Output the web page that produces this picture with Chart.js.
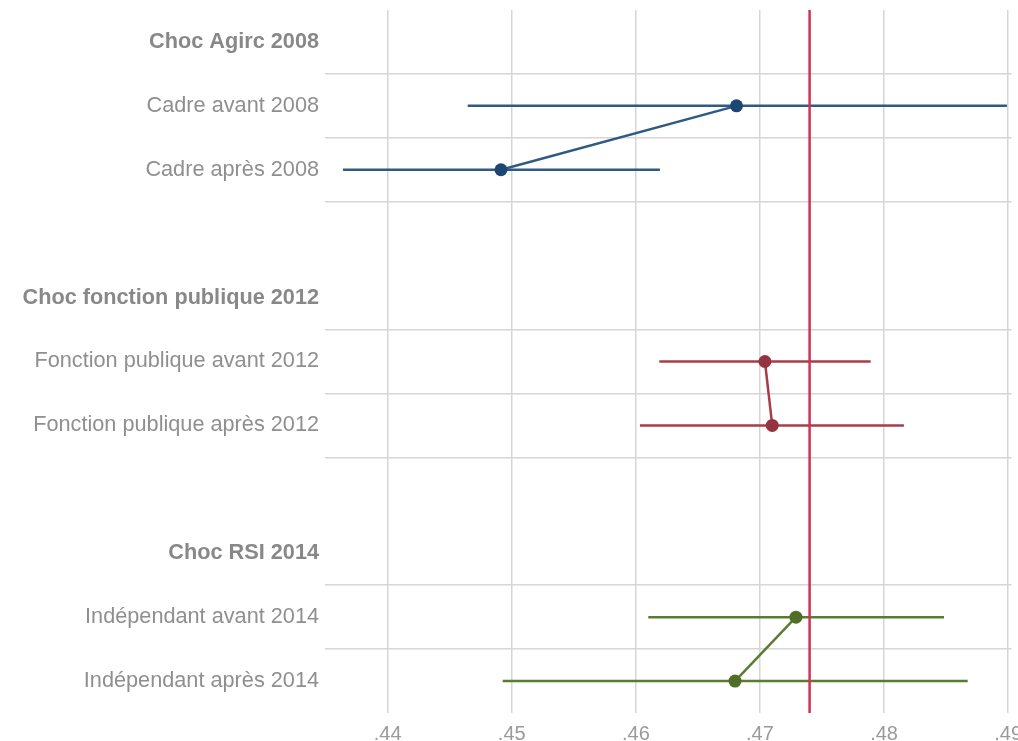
<!DOCTYPE html>
<html lang="fr">
<head>
<meta charset="utf-8">
<title>Chocs</title>
<script src="https://cdn.jsdelivr.net/npm/chart.js@4"></script>
<style>
  html, body { margin: 0; padding: 0; background: #fff; overflow: hidden; }
  #wrap { width: 1018px; height: 741px; position: relative; }
  #wrap canvas { display: block; }
</style>
</head>
<body>
<div id="wrap"><canvas id="chart"></canvas></div>
<script>
'use strict';

// rows top to bottom ('' = spacer row)
const ROWS = [
  'Choc Agirc 2008', 'Cadre avant 2008', 'Cadre après 2008', '',
  'Choc fonction publique 2012', 'Fonction publique avant 2012', 'Fonction publique après 2012', '',
  'Choc RSI 2014', 'Indépendant avant 2014', 'Indépendant après 2014'
];
const HEADER_ROWS = [0, 4, 8];
const ROW_LINES = [0.5, 1.5, 2.5, 4.5, 5.5, 6.5, 8.5, 9.5];

// estimates with confidence bounds, one per item row
const ITEM_ROWS = [1, 2, 5, 6, 9, 10];
const ESTIMATES = [0.46811, 0.44913, 0.47040, 0.47099, 0.47290, 0.46799];
const LOWER     = [0.44645, 0.43640, 0.46189, 0.46033, 0.46100, 0.44927];
const UPPER     = [0.48990, 0.46194, 0.47892, 0.48160, 0.48483, 0.48674];
const GROUP_COLORS = ['#2f5a82', '#a53e48', '#5b7b30'];
const POINT_COLORS = ['#1d4770', '#943441', '#4f6e27'];

const X_TICKS = [0.44, 0.45, 0.46, 0.47, 0.48, 0.49];
const X_MIN = 0.43495, X_MAX = 0.49027;
const REF_VALUE = 0.474;

const FONT = 'Liberation Sans, Arial, sans-serif';
const GREY = '#8f8f8f';
const GRID = '#d6d6d6';

const datasets = [];

// error bars
ITEM_ROWS.forEach((row, i) => {
  const g = Math.floor(i / 2);
  datasets.push({
    data: [{ x: LOWER[i], y: row }, { x: UPPER[i], y: row }],
    showLine: true,
    borderColor: GROUP_COLORS[g],
    borderWidth: 2.5,
    pointRadius: 0,
    order: 3,
  });
});

// estimates linked before / after
for (let g = 0; g < 3; g++) {
  const a = g * 2, b = g * 2 + 1;
  datasets.push({
    data: [{ x: ESTIMATES[a], y: ITEM_ROWS[a] }, { x: ESTIMATES[b], y: ITEM_ROWS[b] }],
    showLine: true,
    borderColor: GROUP_COLORS[g],
    borderWidth: 2.5,
    pointRadius: 6.5,
    pointBackgroundColor: POINT_COLORS[g],
    pointBorderColor: POINT_COLORS[g],
    pointBorderWidth: 0,
    order: 2,
  });
}

// reference line
datasets.push({
  data: [{ x: REF_VALUE, y: -0.5 }, { x: REF_VALUE, y: ROWS.length - 0.5 }],
  showLine: true,
  borderColor: '#d3305a',
  borderWidth: 2.5,
  pointRadius: 0,
  order: 1,
});

new Chart(document.getElementById('chart'), {
  type: 'scatter',
  data: { datasets },
  options: {
    responsive: true,
    maintainAspectRatio: false,
    animation: false,
    layout: { padding: { top: 10, left: 0, right: 0, bottom: 0 } },
    plugins: { legend: { display: false }, tooltip: { enabled: false } },
    scales: {
      x: {
        type: 'linear',
        min: X_MIN,
        max: X_MAX,
        afterBuildTicks: s => { s.ticks = X_TICKS.map(v => ({ value: v })); },
        afterFit: s => { s.height = 28; s.paddingLeft = 0; s.paddingRight = 0; },
        border: { display: false },
        grid: { color: GRID, lineWidth: 1.5, drawTicks: false },
        ticks: {
          color: '#9a9a9a',
          padding: 9,
          font: { family: FONT, size: 20 },
          maxRotation: 0,
          autoSkip: false,
          callback: v => String(v.toFixed(2)).replace(/^0/, ''),
        },
      },
      y: {
        type: 'linear',
        reverse: true,
        min: -0.5,
        max: ROWS.length - 0.5,
        afterBuildTicks: s => {
          const vals = ROWS.map((_, i) => i).concat(ROW_LINES).sort((a, b) => a - b);
          s.ticks = vals.map(v => ({ value: v }));
        },
        afterFit: s => { s.width = 325; s.paddingTop = 0; s.paddingBottom = 0; },
        border: { display: false },
        grid: {
          drawTicks: false,
          lineWidth: 1.5,
          color: ctx => (ctx.tick && !Number.isInteger(ctx.tick.value)) ? GRID : 'rgba(0,0,0,0)',
        },
        ticks: {
          autoSkip: false,
          padding: 6,
          color: ctx => (ctx.tick && HEADER_ROWS.includes(ctx.tick.value)) ? '#888888' : GREY,
          font: ctx => ({
            family: FONT,
            size: 21.7,
            weight: (ctx.tick && HEADER_ROWS.includes(ctx.tick.value)) ? 'bold' : 'normal',
          }),
          callback: v => Number.isInteger(v) ? ROWS[v] : '',
        },
      },
    },
  },
});
</script>
</body>
</html>
